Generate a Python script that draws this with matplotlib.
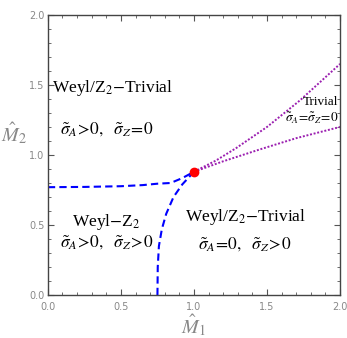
import matplotlib
matplotlib.use("Agg")
import matplotlib.pyplot as plt
from matplotlib.ticker import MultipleLocator

plt.rcParams["mathtext.fontset"] = "stix"
plt.rcParams["font.family"] = ["Liberation Serif", "DejaVu Serif"]

# ── phase boundaries ─────────────────────────────────────────────────────────
h_x = [0.0, 0.25, 0.5, 0.65, 0.75, 0.84, 0.92, 1.0]          # blue, near-horizontal
h_y = [0.77, 0.772, 0.777, 0.785, 0.795, 0.80, 0.835, 0.88]

v_x = [0.75, 0.752, 0.76, 0.78, 0.81, 0.86, 0.92, 1.0]       # blue, near-vertical
v_y = [0.0, 0.2, 0.35, 0.47, 0.58, 0.70, 0.79, 0.88]

up_x = [1.0, 1.15, 1.29, 1.5, 1.726, 2.0]                    # purple, upper
up_y = [0.88, 0.96, 1.05, 1.2, 1.39, 1.65]

lo_x = [1.0, 1.2, 1.452, 1.7, 2.0]                           # purple, lower
lo_y = [0.88, 0.955, 1.04, 1.12, 1.2]

crit_x, crit_y = 1.0, 0.88

ticks = [0.0, 0.5, 1.0, 1.5, 2.0]
tick_labels = ["0.0", "0.5", "1.0", "1.5", "2.0"]

fig = plt.figure(figsize=(3.47, 3.38), dpi=100)
ax = fig.add_axes([0.138, 0.127, 0.842, 0.829])

blue = "#0000ff"
purple = "#9b1fb0"
ax.plot(h_x, h_y, color=blue, lw=1.5, ls=(0, (3.5, 2)))
ax.plot(v_x, v_y, color=blue, lw=1.5, ls=(0, (3.5, 2)))
ax.plot(up_x, up_y, color=purple, lw=1.4, ls=(0, (1, 0.9)))
ax.plot(lo_x, lo_y, color=purple, lw=1.4, ls=(0, (1, 0.9)))
ax.plot([crit_x], [crit_y], "o", color="#ff0000", ms=6, zorder=5)

ax.set_xlim(0, 2)
ax.set_ylim(0, 2)
ax.set_xticks(ticks)
ax.set_xticklabels(tick_labels, family="DejaVu Sans")
ax.set_yticks(ticks)
ax.set_yticklabels(tick_labels, family="DejaVu Sans")
ax.xaxis.set_minor_locator(MultipleLocator(0.1))
ax.yaxis.set_minor_locator(MultipleLocator(0.1))
ax.tick_params(which="both", direction="in", top=True, right=True,
               colors="#555555", labelcolor="#888888", labelsize=7)
ax.tick_params(axis="x", pad=5)
ax.tick_params(axis="y", pad=2.5)
ax.tick_params(which="major", length=4)
ax.tick_params(which="minor", length=2)
for s in ax.spines.values():
    s.set_color("#444444")
    s.set_linewidth(1.0)

ax.set_xlabel(r"$\hat{M}_1$", fontsize=14.5, color="#888888")
ax.xaxis.set_label_coords(0.5, -0.062)
ax.set_ylabel(r"$\hat{M}_2$", fontsize=14.5, color="#888888", rotation=0)
ax.yaxis.set_label_coords(-0.115, 0.53)

fs = 12.5
ax.text(0.03, 1.48, r"Weyl/Z$_2$$-$Trivial", fontsize=fs, ha="left", va="center")
ax.text(0.08, 1.18, r"$\tilde{\sigma}_A\!>\!0,\ \ \tilde{\sigma}_Z\!=\!0$", fontsize=fs, ha="left", va="center")
ax.text(0.40, 0.52, r"Weyl$-$Z$_2$", fontsize=fs, ha="center", va="center")
ax.text(0.40, 0.37, r"$\tilde{\sigma}_A\!>\!0,\ \ \tilde{\sigma}_Z\!>\!0$", fontsize=fs, ha="center", va="center")
ax.text(1.35, 0.56, r"Weyl/Z$_2$$-$Trivial", fontsize=fs, ha="center", va="center")
ax.text(1.35, 0.36, r"$\tilde{\sigma}_A\!=\!0,\ \ \tilde{\sigma}_Z\!>\!0$", fontsize=fs, ha="center", va="center")
ax.text(1.99, 1.38, "Trivial", fontsize=9.5, ha="right", va="center")
ax.text(1.99, 1.26, r"$\tilde{\sigma}_A\!=\!\tilde{\sigma}_Z\!=\!0$", fontsize=9.5, ha="right", va="center")

fig.savefig("out.png", dpi=100)
